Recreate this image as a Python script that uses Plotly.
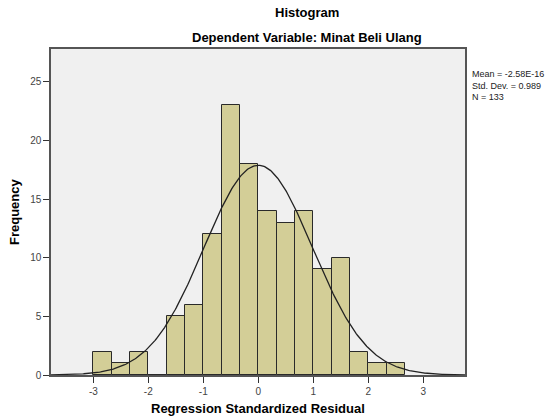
import numpy as np
import plotly.graph_objects as go

# Data
bin_start = -3.0
bin_width = 1.0 / 3.0
counts = [2, 1, 2, 0, 5, 6, 12, 23, 18, 14, 13, 14, 9, 10, 2, 1, 1]
mean_val = -2.58e-16
std_val = 0.989
n_val = 133
x_ticks = [-3, -2, -1, 0, 1, 2, 3]
y_ticks = [0, 5, 10, 15, 20, 25]

centers = [bin_start + bin_width * (i + 0.5) for i in range(len(counts))]

xs = np.linspace(-3.8, 3.8, 400)
ys = n_val * bin_width * np.exp(-0.5 * ((xs - mean_val) / std_val) ** 2) / (std_val * np.sqrt(2 * np.pi))

W, H = 560, 420
L, R, T, B = 51, 95, 49, 45
PW, PH = W - L - R, H - T - B


def px(xp):
    return (xp - L) / PW


def py(yp):
    return (H - B - yp) / PH


fig = go.Figure()
fig.add_trace(go.Bar(
    x=centers, y=counts, width=bin_width,
    marker=dict(color="#d3ce97", line=dict(color="#2a2a2a", width=1)),
    hoverinfo="x+y", showlegend=False,
))
fig.add_trace(go.Scatter(
    x=xs, y=ys, mode="lines",
    line=dict(color="#222222", width=1.3),
    showlegend=False, hoverinfo="skip",
))

font_family = "Liberation Sans, Arial, sans-serif"

fig.update_layout(
    width=W, height=H,
    margin=dict(l=L, r=R, t=T, b=B),
    paper_bgcolor="white",
    plot_bgcolor="#f0f0f0",
    font=dict(family=font_family, color="#000"),
    bargap=0,
    xaxis=dict(
        range=[-3.77, 3.76], tickvals=x_ticks, ticktext=[str(v) for v in x_ticks],
        ticks="outside", ticklen=6, tickcolor="#333", showgrid=False, zeroline=False,
        showline=True, linecolor="#555", linewidth=1.5, mirror=True, automargin=False,
        tickfont=dict(size=10, color="#444"),
    ),
    yaxis=dict(
        range=[0, 27.8], tickvals=y_ticks,
        ticks="outside", ticklen=6, tickcolor="#333", showgrid=False, zeroline=False,
        showline=True, linecolor="#555", linewidth=1.5, mirror=True, automargin=False,
        tickfont=dict(size=10, color="#444"),
    ),
    annotations=[
        dict(text="<b>Histogram</b>", x=px(307), y=py(13), xref="paper", yref="paper",
             yanchor="middle", showarrow=False, font=dict(size=13)),
        dict(text="<b>Dependent Variable: Minat Beli Ulang</b>", x=px(307), y=py(38),
             xref="paper", yref="paper", yanchor="middle", showarrow=False, font=dict(size=13)),
        dict(text="<b>Regression Standardized Residual</b>", x=px(258), y=py(408),
             xref="paper", yref="paper", yanchor="middle", showarrow=False, font=dict(size=13)),
        dict(text="<b>Frequency</b>", x=px(14), y=py(212), textangle=-90,
             xref="paper", yref="paper", xanchor="center", yanchor="middle",
             showarrow=False, font=dict(size=13)),
        dict(text=f"Mean = -2.58E-16<br>Std. Dev. = {std_val}<br>N = {n_val}",
             x=px(470), y=py(67), xref="paper", yref="paper", xanchor="left", yanchor="top",
             align="left", showarrow=False, font=dict(size=9, color="#222")),
    ],
)

fig.write_html("out.html", config={"displayModeBar": False},
               post_script="document.body.style.margin='0';")
